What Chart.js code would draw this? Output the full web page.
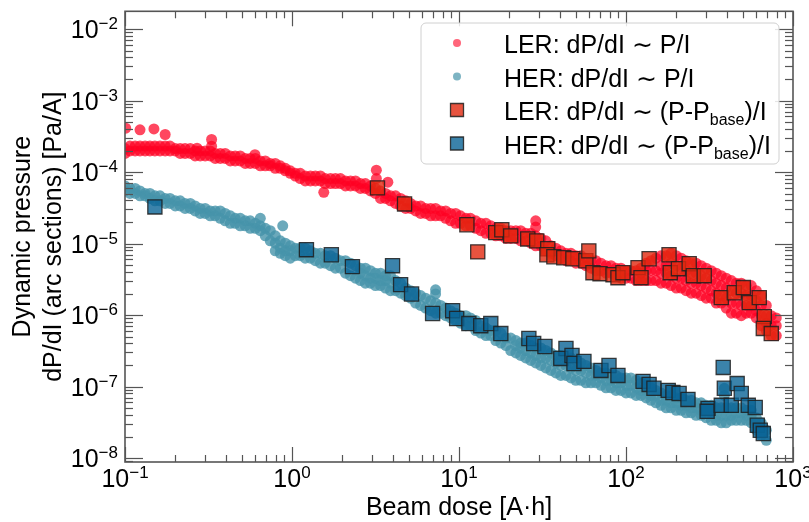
<!DOCTYPE html>
<html>
<head>
<meta charset="utf-8">
<script src="https://cdn.jsdelivr.net/npm/chart.js@4.4.1/dist/chart.umd.min.js"></script>
<style>
  html, body { margin: 0; padding: 0; background: #fff; }
  canvas { display: block; }
</style>
</head>
<body>
<canvas id="chart" width="809" height="522"></canvas>
<script>
const bandDose = [
  0.100, 0.107, 0.115, 0.123, 0.132, 0.141, 0.151, 0.162, 0.174, 0.186,
  0.200, 0.214, 0.229, 0.246, 0.263, 0.282, 0.302, 0.324, 0.347, 0.372,
  0.398, 0.427, 0.457, 0.490, 0.525, 0.562, 0.603, 0.646, 0.692, 0.741,
  0.794, 0.851, 0.912, 0.977, 1.047, 1.12, 1.20, 1.29, 1.38, 1.48,
  1.58, 1.70, 1.82, 1.95, 2.09, 2.24, 2.40, 2.57, 2.75, 2.95,
  3.16, 3.39, 3.63, 3.89, 4.17, 4.47, 4.79, 5.13, 5.50, 5.89,
  6.31, 6.76, 7.24, 7.76, 8.32, 8.91, 9.55, 10.2, 11.0, 11.7,
  12.6, 13.5, 14.5, 15.5, 16.6, 17.8, 19.1, 20.4, 21.9, 23.4,
  25.1, 26.9, 28.8, 30.9, 33.1, 35.5, 38.0, 40.7, 43.7, 46.8,
  50.1, 53.7, 57.5, 61.7, 66.1, 70.8, 75.9, 81.3, 87.1, 93.3,
  100, 107, 115, 123, 132, 141, 151, 162, 174, 186,
  200, 214, 229, 246, 263, 282, 302, 324, 347, 372,
  398, 427, 457, 490, 525, 562, 603, 646, 692, 741,
  794
];

// LER dP/dI ~ P/I : upper and lower edge of the band [Pa/A]
const lerUpper = [
  2.13e-4, 2.31e-4, 2.31e-4, 2.31e-4, 2.31e-4, 2.31e-4, 2.31e-4, 2.31e-4, 2.31e-4, 2.31e-4,
  2.13e-4, 2.13e-4, 2.13e-4, 2.13e-4, 1.97e-4, 1.97e-4, 1.97e-4, 1.97e-4, 1.82e-4, 1.82e-4,
  1.82e-4, 1.68e-4, 1.68e-4, 1.68e-4, 1.55e-4, 1.55e-4, 1.55e-4, 1.43e-4, 1.43e-4, 1.32e-4,
  1.32e-4, 1.22e-4, 1.125e-4, 1.04e-4, 9.6e-5, 9.6e-5, 8.8e-5, 8.8e-5, 8.8e-5, 8.8e-5,
  8.1e-5, 8.1e-5, 8.1e-5, 8.1e-5, 7.5e-5, 7.5e-5, 7.5e-5, 6.9e-5, 6.9e-5, 6.4e-5,
  5.9e-5, 5.44e-5, 5.02e-5, 4.64e-5, 4.64e-5, 4.28e-5, 3.95e-5, 3.64e-5, 3.36e-5, 3.36e-5,
  3.10e-5, 3.10e-5, 3.10e-5, 2.86e-5, 2.86e-5, 2.64e-5, 2.64e-5, 2.44e-5, 2.25e-5, 2.25e-5,
  2.08e-5, 1.92e-5, 1.92e-5, 1.77e-5, 1.63e-5, 1.63e-5, 1.51e-5, 1.51e-5, 1.51e-5, 1.51e-5,
  1.39e-5, 1.39e-5, 1.28e-5, 1.18e-5, 1.09e-5, 9.3e-6, 8.6e-6, 7.9e-6, 7.3e-6, 7.3e-6,
  6.75e-6, 6.75e-6, 6.23e-6, 5.75e-6, 5.75e-6, 5.31e-6, 4.9e-6, 4.9e-6, 4.52e-6, 4.52e-6,
  4.17e-6, 4.17e-6, 4.17e-6, 4.52e-6, 5.31e-6, 5.75e-6, 6.23e-6, 6.75e-6, 6.75e-6, 7.3e-6,
  6.75e-6, 6.23e-6, 5.75e-6, 5.31e-6, 5.31e-6, 4.9e-6, 4.52e-6, 4.17e-6, 3.85e-6, 3.55e-6,
  3.28e-6, 3.03e-6, 2.79e-6, 2.79e-6, 2.58e-6, 2.58e-6, 2.19e-6, 1.87e-6, 1.36e-6, 9.8e-7,
  9.1e-7
];
const lerLower = [
  1.82e-4, 1.97e-4, 1.97e-4, 1.97e-4, 1.97e-4, 1.97e-4, 1.97e-4, 1.97e-4, 1.97e-4, 1.97e-4,
  1.97e-4, 1.82e-4, 1.82e-4, 1.82e-4, 1.68e-4, 1.68e-4, 1.68e-4, 1.68e-4, 1.55e-4, 1.55e-4,
  1.55e-4, 1.43e-4, 1.43e-4, 1.43e-4, 1.32e-4, 1.32e-4, 1.32e-4, 1.22e-4, 1.22e-4, 1.22e-4,
  1.125e-4, 1.125e-4, 1.04e-4, 9.6e-5, 8.8e-5, 8.1e-5, 7.5e-5, 7.5e-5, 7.5e-5, 7.5e-5,
  6.9e-5, 6.9e-5, 6.9e-5, 6.9e-5, 6.4e-5, 6.4e-5, 6.4e-5, 5.9e-5, 5.9e-5, 5.44e-5,
  5.02e-5, 4.28e-5, 4.28e-5, 3.95e-5, 3.64e-5, 3.36e-5, 3.10e-5, 3.10e-5, 2.86e-5, 2.64e-5,
  2.64e-5, 2.44e-5, 2.44e-5, 2.44e-5, 2.25e-5, 2.08e-5, 1.92e-5, 1.92e-5, 1.77e-5, 1.77e-5,
  1.63e-5, 1.51e-5, 1.39e-5, 1.39e-5, 1.28e-5, 1.28e-5, 1.18e-5, 1.18e-5, 1.18e-5, 1.09e-5,
  1.09e-5, 1.01e-5, 9.3e-6, 9.3e-6, 7.9e-6, 7.3e-6, 6.75e-6, 6.23e-6, 5.75e-6, 5.75e-6,
  5.31e-6, 5.31e-6, 4.9e-6, 4.52e-6, 4.17e-6, 4.17e-6, 3.85e-6, 3.85e-6, 3.55e-6, 3.28e-6,
  3.28e-6, 3.28e-6, 3.03e-6, 3.03e-6, 3.03e-6, 3.03e-6, 3.03e-6, 2.79e-6, 2.79e-6, 2.58e-6,
  2.38e-6, 2.38e-6, 2.19e-6, 2.02e-6, 2.02e-6, 1.87e-6, 1.72e-6, 1.72e-6, 1.47e-6, 1.47e-6,
  1.25e-6, 1.06e-6, 1.06e-6, 9.8e-7, 1.06e-6, 1.06e-6, 9.1e-7, 7.1e-7, 6.07e-7, 5.17e-7,
  5.17e-7
];
// the wide LER bump above 100 A·h needs inner rows
const lerBumpDose = [123, 132, 141, 151, 162, 174, 186, 200, 214, 229, 246, 263, 282, 302,
  324, 347, 372, 398, 427, 457, 490, 525, 562, 603, 646, 692, 741, 794];
const lerBumpA = [3.85e-6, 4.17e-6, 4.17e-6, 4.17e-6, 4.9e-6, 4.9e-6, 5.31e-6, 4.9e-6, 4.52e-6,
  4.17e-6, 3.85e-6, 3.85e-6, 3.55e-6, 3.28e-6, 3.03e-6, 2.79e-6, 2.58e-6, 2.38e-6, 2.19e-6,
  2.02e-6, 2.02e-6, 1.87e-6, 1.87e-6, 1.59e-6, 1.36e-6, 9.8e-7, 7.1e-7, 7.1e-7];
const lerBumpB = [null, null, null, null, 3.85e-6, 3.85e-6, 3.55e-6, 3.28e-6, 3.28e-6, 3.03e-6,
  2.79e-6, 2.79e-6, 2.58e-6, 2.38e-6, 2.19e-6, 2.02e-6, 1.87e-6, 1.72e-6, 1.47e-6, 1.47e-6,
  1.36e-6, 1.36e-6, 1.36e-6, 1.15e-6, 9.8e-7, 7.7e-7, null, null];
const lerStrayDose = [0.101, 0.123, 0.149, 0.174, 0.27, 0.33, 0.33, 0.60, 1.55, 3.2, 3.2, 3.75, 28.8, 28.8];
const lerStrayY = [4.1e-4, 3.9e-4, 4.0e-4, 3.35e-4, 2.15e-4, 2.85e-4, 2.3e-4, 1.75e-4, 5.2e-5,
  1.06e-4, 8.1e-5, 7.2e-5, 2.08e-5, 1.7e-5];

// HER dP/dI ~ P/I : upper and lower edge of the band [Pa/A]
const herUpper = [
  6.4e-5, 5.9e-5, 5.9e-5, 5.44e-5, 5.02e-5, 5.02e-5, 4.64e-5, 4.64e-5, 4.28e-5, 4.28e-5,
  3.95e-5, 3.95e-5, 3.64e-5, 3.64e-5, 3.36e-5, 3.10e-5, 3.10e-5, 2.86e-5, 2.86e-5, 2.86e-5,
  2.64e-5, 2.44e-5, 2.25e-5, 2.25e-5, 2.08e-5, 2.08e-5, 1.92e-5, 1.77e-5, 1.63e-5, 1.51e-5,
  1.28e-5, 1.09e-5, 1.01e-5, 9.3e-6, 8.6e-6, 8.6e-6, 8.6e-6, 7.9e-6, 7.3e-6, 7.3e-6,
  6.75e-6, 6.75e-6, 6.23e-6, 5.75e-6, 5.75e-6, 5.31e-6, 4.9e-6, 4.52e-6, 4.52e-6, 4.17e-6,
  3.85e-6, 3.85e-6, 3.55e-6, 3.55e-6, 3.03e-6, 2.79e-6, 2.38e-6, 2.19e-6, 2.02e-6, 1.87e-6,
  1.72e-6, 1.59e-6, 1.47e-6, 1.36e-6, 1.25e-6, 1.15e-6, 1.06e-6, 9.8e-7, 9.8e-7, 9.1e-7,
  8.4e-7, 7.1e-7, 6.6e-7, 6.07e-7, 6.07e-7, 5.6e-7, 4.77e-7, 4.77e-7, 4.4e-7, 4.06e-7,
  4.06e-7, 3.75e-7, 3.46e-7, 3.46e-7, 3.19e-7, 2.95e-7, 2.72e-7, 2.72e-7, 2.51e-7, 2.51e-7,
  2.32e-7, 2.14e-7, 1.97e-7, 1.82e-7, 1.68e-7, 1.55e-7, 1.55e-7, 1.43e-7, 1.43e-7, 1.32e-7,
  1.32e-7, 1.32e-7, 1.22e-7, 1.125e-7, 1.04e-7, 9.6e-8, 8.83e-8, 8.15e-8, 7.5e-8, 7.5e-8,
  6.93e-8, 6.93e-8, 6.41e-8, 6.41e-8, 5.91e-8, 5.91e-8, 5.46e-8, 5.46e-8, 5.03e-8, 5.03e-8,
  5.03e-8, 5.03e-8, 5.03e-8, 5.03e-8, 4.65e-8, 4.65e-8, 3.65e-8, 3.11e-8, 2.45e-8, null,
  null
];
const herLower = [
  5.44e-5, 5.02e-5, 5.02e-5, 4.64e-5, 4.64e-5, 4.28e-5, 3.95e-5, 3.95e-5, 3.64e-5, 3.64e-5,
  3.36e-5, 3.36e-5, 3.10e-5, 3.10e-5, 2.86e-5, 2.64e-5, 2.64e-5, 2.44e-5, 2.44e-5, 2.25e-5,
  2.08e-5, 1.92e-5, 1.92e-5, 1.77e-5, 1.77e-5, 1.63e-5, 1.63e-5, 1.51e-5, 1.28e-5, 1.09e-5,
  7.9e-6, 7.3e-6, 6.75e-6, 6.23e-6, 6.75e-6, 6.75e-6, 6.23e-6, 6.23e-6, 5.75e-6, 5.31e-6,
  5.31e-6, 4.9e-6, 4.52e-6, 4.52e-6, 3.85e-6, 3.55e-6, 3.28e-6, 3.03e-6, 2.79e-6, 2.79e-6,
  2.58e-6, 2.58e-6, 2.38e-6, 2.19e-6, 2.19e-6, 2.02e-6, 1.87e-6, 1.72e-6, 1.47e-6, 1.36e-6,
  1.25e-6, 1.15e-6, 1.06e-6, 1.06e-6, 9.8e-7, 9.1e-7, 8.4e-7, 7.7e-7, 7.1e-7, 7.1e-7,
  6.07e-7, 5.6e-7, 5.17e-7, 5.17e-7, 4.4e-7, 4.06e-7, 3.75e-7, 3.19e-7, 2.95e-7, 2.72e-7,
  2.51e-7, 2.32e-7, 2.14e-7, 1.97e-7, 1.82e-7, 1.68e-7, 1.55e-7, 1.43e-7, 1.43e-7, 1.32e-7,
  1.22e-7, 1.22e-7, 1.125e-7, 1.125e-7, 1.125e-7, 1.04e-7, 9.6e-8, 9.6e-8, 8.83e-8, 8.83e-8,
  8.15e-8, 8.15e-8, 7.5e-8, 7.5e-8, 6.93e-8, 6.41e-8, 5.91e-8, 5.46e-8, 5.03e-8, 5.03e-8,
  4.65e-8, 4.65e-8, 4.29e-8, 4.29e-8, 3.96e-8, 3.96e-8, 3.65e-8, 3.37e-8, 3.37e-8, 3.11e-8,
  3.11e-8, 3.37e-8, 3.37e-8, 3.37e-8, 3.37e-8, 3.11e-8, 2.45e-8, 2.08e-8, 1.77e-8, null,
  null
];
// inner row where the HER band is wide
const herMidDose = [0.794, 0.851, 0.912, 0.977,
  2.57, 2.75, 2.95, 3.16, 3.39, 3.63, 3.89,
  21.9, 23.4, 25.1, 26.9, 28.8, 30.9, 33.1, 35.5, 38.0, 40.7,
  43.7, 46.8, 50.1, 53.7, 57.5, 61.7, 66.1, 70.8, 75.9, 81.3,
  87.1, 93.3, 100, 107, 115, 123, 132, 141, 151, 162,
  174, 186, 200, 214, 229, 246, 263, 282, 302, 324,
  347, 372, 398, 427, 457, 490, 525, 562, 603, 646];
const herMidY = [1.01e-5, 8.6e-6, 7.9e-6, 7.9e-6,
  3.85e-6, 3.55e-6, 3.28e-6, 3.28e-6, 3.03e-6, 3.03e-6, 2.79e-6,
  3.75e-7, 3.46e-7, 3.19e-7, 2.95e-7, 2.72e-7, 2.51e-7, 2.51e-7, 2.32e-7, 2.14e-7, 1.97e-7,
  1.97e-7, 1.82e-7, 1.68e-7, 1.68e-7, 1.55e-7, 1.43e-7, 1.43e-7, 1.32e-7, 1.22e-7, 1.22e-7,
  1.125e-7, 1.125e-7, 1.04e-7, 1.04e-7, 9.6e-8, 8.83e-8, 8.83e-8, 7.5e-8, 7.5e-8, 6.41e-8,
  6.41e-8, 5.91e-8, 5.91e-8, 5.46e-8, 5.46e-8, 5.03e-8, 5.03e-8, 4.65e-8, 4.65e-8, 4.29e-8,
  3.96e-8, 3.96e-8, 3.96e-8, 3.96e-8, 4.29e-8, 4.29e-8, 3.96e-8, 3.96e-8, 3.11e-8, 2.45e-8];
const herStrayDose = [0.646, 0.88, 7.24, 7.24, 388, 388];
const herStrayY = [2.25e-5, 1.77e-5, 2.25e-6, 1.97e-6, 9.45e-8, 7.5e-8];

// dP/dI ~ (P-Pbase)/I, arc-section points
const lerSqDose = [3.25, 4.72, 11.15, 12.95, 16.6, 18.05, 20.4, 25.8, 29.2, 34.0, 33.6, 37.0, 42.4,
  48.1, 57.5, 59.9, 63.4, 69.9, 83.6, 89.5, 95.9, 118, 123, 137.5, 181, 184, 206, 239, 253, 294,
  372, 445, 504, 547, 628, 673, 664, 741];
const lerSqY = [6.0e-5, 3.58e-5, 1.83e-5, 7.65e-6, 1.42e-5, 1.56e-5, 1.28e-5, 1.16e-5, 1.09e-5,
  8.45e-6, 6.97e-6, 6.54e-6, 6.33e-6, 6.13e-6, 5.75e-6, 7.9e-6, 3.91e-6, 3.79e-6, 3.67e-6, 3.33e-6,
  3.91e-6, 4.6e-6, 3.33e-6, 6.13e-6, 6.97e-6, 3.91e-6, 4.45e-6, 5.23e-6, 3.55e-6, 3.55e-6, 1.75e-6,
  2.05e-6, 2.42e-6, 1.49e-6, 1.75e-6, 9.5e-7, 6.5e-7, 5.5e-7];
const herSqDose = [0.151, 1.22, 1.72, 2.30, 4.00, 4.47, 5.20, 6.95, 9.16, 9.68, 11.46, 13.5, 15.5,
  17.8, 26.2, 28.0, 32.7, 43.7, 40.7, 47.5, 48.8, 56.0, 70.8, 79.1, 89.5, 126.5, 137.5, 147, 179,
  191, 208, 235, 310, 306, 372, 382, 388, 427, 463, 490, 540, 594, 611, 637, 664];
const herSqY = [3.25e-5, 8.2e-6, 6.97e-6, 4.75e-6, 4.9e-6, 2.66e-6, 1.97e-6, 1.05e-6, 1.15e-6,
  8.95e-7, 7.6e-7, 7.1e-7, 7.6e-7, 5.5e-7, 4.7e-7, 4.0e-7, 3.63e-7, 3.4e-7, 2.47e-7, 2.72e-7,
  2.1e-7, 2.25e-7, 1.68e-7, 1.97e-7, 1.43e-7, 1.18e-7, 1.07e-7, 9.45e-8, 8.83e-8, 8.25e-8, 8.0e-8,
  6.6e-8, 4.95e-8, 4.5e-8, 5.46e-8, 1.85e-7, 9.45e-8, 5.46e-8, 1.1e-7, 8.0e-8, 5.46e-8, 5.1e-8,
  2.87e-8, 2.45e-8, 2.2e-8];

const legendLabels = [
  'LER: dP/dI \u223C P/I',
  'HER: dP/dI \u223C P/I',
  'LER: dP/dI \u223C (P-P{base})/I',
  'HER: dP/dI \u223C (P-P{base})/I'
];
const xTitle = 'Beam dose [A\u00B7h]';
const yTitle = ['Dynamic pressure', 'dP/dI (arc sections) [Pa/A]'];
const xDecades = [-1, 0, 1, 2, 3];
const yDecades = [-8, -7, -6, -5, -4, -3, -2];

const FONT = "'Liberation Sans', Arial, Helvetica, sans-serif";
const LER_DOT = 'rgba(255, 0, 35, 0.72)';
const HER_DOT = 'rgba(70, 148, 170, 0.8)';
const LER_KEY = 'rgba(255, 0, 35, 0.6)';
const HER_KEY = 'rgba(70, 148, 170, 0.7)';
const LER_SQ = 'rgba(225, 40, 15, 0.8)';
const HER_SQ = 'rgba(10, 100, 150, 0.8)';
const SQ_EDGE = 'rgba(30, 30, 30, 0.85)';

function toPoints(xs, ys) {
  const pts = [];
  const n = Math.min(xs.length, ys.length);
  for (let i = 0; i < n; i++) if (ys[i] != null) pts.push({ x: xs[i], y: ys[i] });
  return pts;
}

const lerDots = [].concat(
  toPoints(bandDose, lerUpper), toPoints(bandDose, lerLower),
  toPoints(lerBumpDose, lerBumpA), toPoints(lerBumpDose, lerBumpB),
  toPoints(lerStrayDose, lerStrayY));
const herDots = [].concat(
  toPoints(bandDose, herUpper), toPoints(bandDose, herLower),
  toPoints(herMidDose, herMidY), toPoints(herStrayDose, herStrayY));

// "10" with a superscript exponent
function powLabel(ctx, exp, x, baseline, align) {
  const base = '10';
  const sup = (exp < 0 ? '\u2212' : '') + Math.abs(exp);
  ctx.font = `25px ${FONT}`;
  const wb = ctx.measureText(base).width;
  ctx.font = `17px ${FONT}`;
  const ws = ctx.measureText(sup).width;
  const left = align === 'right' ? x - wb - ws : x - (wb + ws) / 2;
  ctx.textAlign = 'left';
  ctx.textBaseline = 'alphabetic';
  ctx.font = `25px ${FONT}`;
  ctx.fillText(base, left, baseline);
  ctx.font = `17px ${FONT}`;
  ctx.fillText(sup, left + wb, baseline - 9);
}

// text with {sub} parts as subscripts
function richText(ctx, text, x, baseline) {
  const parts = text.split(/(\{[^}]*\})/);
  let cx = x;
  ctx.textAlign = 'left';
  ctx.textBaseline = 'alphabetic';
  parts.forEach(p => {
    if (!p) return;
    if (p[0] === '{') {
      const s = p.slice(1, -1);
      ctx.font = `16px ${FONT}`;
      ctx.fillText(s, cx, baseline + 5);
      cx += ctx.measureText(s).width;
    } else {
      ctx.font = `25px ${FONT}`;
      ctx.fillText(p, cx, baseline);
      cx += ctx.measureText(p).width;
    }
  });
}

const frameAndTicks = {
  id: 'frameAndTicks',
  afterDatasetsDraw(chart) {
    const { ctx, chartArea: a, scales: { x, y } } = chart;
    ctx.save();
    ctx.strokeStyle = '#555';
    ctx.lineWidth = 1.2;
    const seg = (x1, y1, x2, y2) => { ctx.beginPath(); ctx.moveTo(x1, y1); ctx.lineTo(x2, y2); ctx.stroke(); };
    [-2, ...xDecades].forEach(e => {
      for (let m = 1; m <= 9; m++) {
        const v = m * Math.pow(10, e);
        if (v < x.min * 0.999 || v > x.max * 1.001) continue;
        const px = Math.round(x.getPixelForValue(v)) + 0.5;
        const len = m === 1 ? 15 : 7;
        seg(px, a.bottom, px, a.bottom - len);
        seg(px, a.top, px, a.top + len);
      }
    });
    [-9, ...yDecades].forEach(e => {
      for (let m = 1; m <= 9; m++) {
        const v = m * Math.pow(10, e);
        if (v < y.min || v > y.max) continue;
        const py = Math.round(y.getPixelForValue(v)) + 0.5;
        const len = m === 1 ? 18 : 8;
        seg(a.left, py, a.left + len, py);
        seg(a.right, py, a.right - len, py);
      }
    });
    ctx.lineWidth = 1.6;
    ctx.strokeRect(a.left, a.top, a.right - a.left, a.bottom - a.top);
    ctx.restore();
  },
  afterDraw(chart) {
    const { ctx, chartArea: a, scales: { x, y } } = chart;
    ctx.save();
    ctx.fillStyle = '#000';
    xDecades.forEach(e => powLabel(ctx, e, x.getPixelForValue(Math.pow(10, e)), a.bottom + 25, 'center'));
    yDecades.forEach(e => powLabel(ctx, e, a.left - 7, y.getPixelForValue(Math.pow(10, e)) + 9, 'right'));

    ctx.font = `25px ${FONT}`;
    ctx.textAlign = 'center';
    ctx.textBaseline = 'alphabetic';
    ctx.fillText(xTitle, (a.left + a.right) / 2, 515);
    const cy = (a.top + a.bottom) / 2;
    [30, 61].forEach((bx, i) => {
      ctx.save();
      ctx.translate(bx, cy);
      ctx.rotate(-Math.PI / 2);
      ctx.fillText(yTitle[i], 0, 0);
      ctx.restore();
    });

    // legend
    const lx = 421, ly = 23, lw = 358, lh = 141;
    ctx.beginPath();
    ctx.roundRect(lx, ly, lw, lh, 5);
    ctx.fillStyle = 'rgba(255,255,255,0.85)';
    ctx.fill();
    ctx.strokeStyle = '#d0d0d0';
    ctx.lineWidth = 1;
    ctx.stroke();
    const rows = [53, 86.5, 120, 153.5];
    const mx = 457;
    rows.forEach((b, i) => {
      const my = b - 10;
      ctx.beginPath();
      if (i < 2) {
        ctx.arc(mx, my, 4, 0, Math.PI * 2);
        ctx.fillStyle = i === 0 ? LER_KEY : HER_KEY;
        ctx.fill();
      } else {
        ctx.rect(mx - 6.5, my - 6.5, 13, 13);
        ctx.fillStyle = i === 2 ? LER_SQ : HER_SQ;
        ctx.fill();
        ctx.strokeStyle = SQ_EDGE;
        ctx.lineWidth = 1.3;
        ctx.stroke();
      }
      ctx.fillStyle = '#000';
      richText(ctx, legendLabels[i], 504, b);
    });
    ctx.restore();
  }
};

const hiddenAxis = {
  type: 'logarithmic',
  ticks: { display: false },
  grid: { display: false, drawTicks: false },
  border: { display: false },
  title: { display: false }
};

new Chart(document.getElementById('chart'), {
  type: 'scatter',
  data: {
    datasets: [
      { label: legendLabels[2], data: toPoints(lerSqDose, lerSqY), pointStyle: 'rect', pointRadius: 10,
        backgroundColor: LER_SQ, borderColor: SQ_EDGE, borderWidth: 1.3, order: 0 },
      { label: legendLabels[3], data: toPoints(herSqDose, herSqY), pointStyle: 'rect', pointRadius: 10,
        backgroundColor: HER_SQ, borderColor: SQ_EDGE, borderWidth: 1.3, order: 0 },
      { label: legendLabels[0], data: lerDots, pointRadius: 5.5, backgroundColor: LER_DOT, borderWidth: 0, order: 1 },
      { label: legendLabels[1], data: herDots, pointRadius: 5.5, backgroundColor: HER_DOT, borderWidth: 0, order: 1 }
    ]
  },
  options: {
    responsive: false,
    animation: false,
    devicePixelRatio: 1,
    layout: { padding: { left: 125, top: 10, right: 16, bottom: 60 } },
    plugins: { legend: { display: false }, tooltip: { enabled: false } },
    scales: {
      x: { ...hiddenAxis, min: 0.1, max: 1000 },
      y: { ...hiddenAxis, min: 8.8e-9, max: 1.77e-2 }
    }
  },
  plugins: [frameAndTicks]
});
</script>
</body>
</html>
